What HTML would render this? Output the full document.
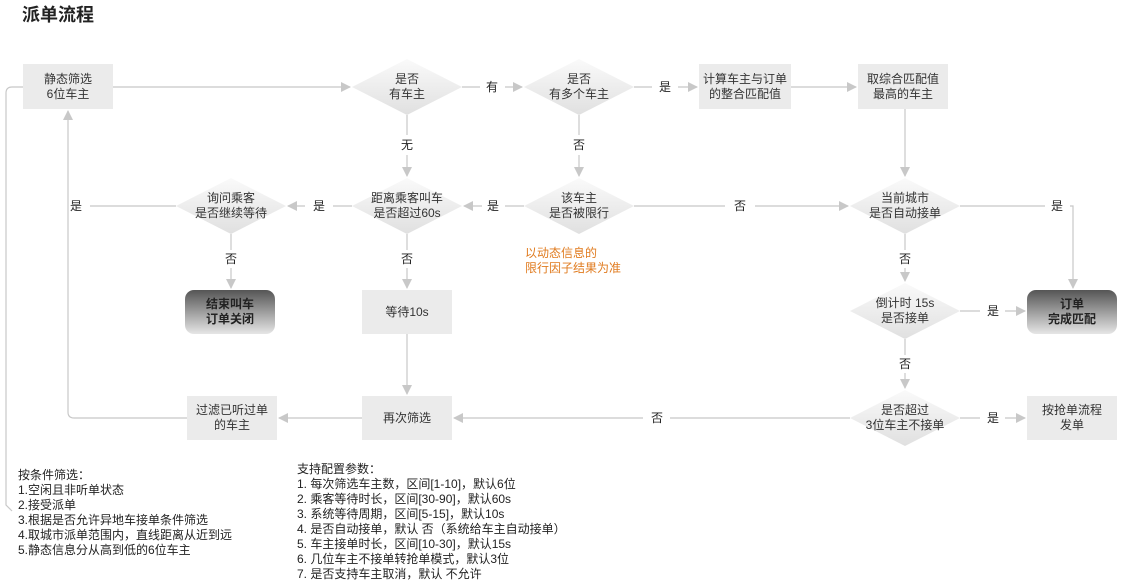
<!DOCTYPE html>
<html><head><meta charset="utf-8"><style>
body{margin:0;background:#fff;}
svg{display:block;font-family:"Liberation Sans","Noto Sans CJK SC",sans-serif;}
</style></head><body>
<svg width="1124" height="586" viewBox="0 0 1124 586">
<defs>
<linearGradient id="dg" x1="0" y1="0" x2="0" y2="1"><stop offset="0" stop-color="#fafafa"/><stop offset="1" stop-color="#e0e0e0"/></linearGradient>
<linearGradient id="tg" x1="0" y1="0" x2="0" y2="1"><stop offset="0" stop-color="#555"/><stop offset="1" stop-color="#e6e6e6"/></linearGradient>
<marker id="a" markerWidth="10" markerHeight="10" refX="9" refY="5" orient="auto" markerUnits="userSpaceOnUse"><path d="M0,0 L10,5 L0,10 Z" fill="#c8c8c8"/></marker>
</defs>
<text x="22" y="21" font-size="18" font-weight="bold" fill="#222">派单流程</text>
<g stroke="#c8c8c8" stroke-width="1.2" fill="none">
<line x1="113" y1="87" x2="350" y2="87" marker-end="url(#a)"/>
<line x1="462" y1="87" x2="480" y2="87"/><line x1="505" y1="87" x2="522" y2="87" marker-end="url(#a)"/>
<line x1="634" y1="87" x2="652" y2="87"/><line x1="678" y1="87" x2="697" y2="87" marker-end="url(#a)"/>
<line x1="791" y1="87" x2="856" y2="87" marker-end="url(#a)"/>
<line x1="905" y1="109" x2="905" y2="176" marker-end="url(#a)"/>
<line x1="407" y1="115" x2="407" y2="135"/><line x1="407" y1="155" x2="407" y2="176" marker-end="url(#a)"/>
<line x1="579" y1="115" x2="579" y2="135"/><line x1="579" y1="155" x2="579" y2="176" marker-end="url(#a)"/>
<line x1="634" y1="206" x2="725" y2="206"/><line x1="755" y1="206" x2="848" y2="206" marker-end="url(#a)"/>
<line x1="524" y1="206" x2="505" y2="206"/><line x1="482" y1="206" x2="464" y2="206" marker-end="url(#a)"/>
<line x1="352" y1="206" x2="333" y2="206"/><line x1="305" y1="206" x2="288" y2="206" marker-end="url(#a)"/>
<line x1="176" y1="206" x2="90" y2="206"/>
<line x1="231" y1="234" x2="231" y2="250"/><line x1="231" y1="268" x2="231" y2="288" marker-end="url(#a)"/>
<line x1="407" y1="234" x2="407" y2="250"/><line x1="407" y1="268" x2="407" y2="288" marker-end="url(#a)"/>
<line x1="407" y1="334" x2="407" y2="394" marker-end="url(#a)"/>
<line x1="960" y1="206" x2="1045" y2="206"/><path d="M1070,206 H1073 V288" marker-end="url(#a)"/>
<line x1="905" y1="234" x2="905" y2="250"/><line x1="905" y1="268" x2="905" y2="281" marker-end="url(#a)"/>
<line x1="960" y1="311" x2="980" y2="311"/><line x1="1005" y1="311" x2="1025" y2="311" marker-end="url(#a)"/>
<line x1="905" y1="339" x2="905" y2="355"/><line x1="905" y1="373" x2="905" y2="388" marker-end="url(#a)"/>
<line x1="960" y1="418" x2="980" y2="418"/><line x1="1005" y1="418" x2="1025" y2="418" marker-end="url(#a)"/>
<line x1="850" y1="418" x2="670" y2="418"/><line x1="643" y1="418" x2="454" y2="418" marker-end="url(#a)"/>
<line x1="362" y1="418" x2="279" y2="418" marker-end="url(#a)"/>
<path d="M187,418 H74 Q68,418 68,412 V111" marker-end="url(#a)"/>
<path d="M23,87 H12 Q6,87 6,93 V505 L12,511"/>
</g>
<g font-size="12" fill="#222" text-anchor="middle">
<text x="492" y="91">有</text><text x="665" y="91">是</text>
<text x="407" y="149">无</text><text x="579" y="149">否</text>
<text x="493" y="210">是</text><text x="319" y="210">是</text><text x="76" y="210">是</text>
<text x="740" y="210">否</text><text x="1057" y="210">是</text>
<text x="231" y="263">否</text><text x="407" y="263">否</text><text x="905" y="263">否</text>
<text x="993" y="315">是</text><text x="905" y="368">否</text>
<text x="993" y="422">是</text><text x="657" y="422">否</text>
</g>
<g fill="#ebebeb">
<rect x="23" y="64" width="90" height="45"/><rect x="699" y="64" width="92" height="45"/><rect x="858" y="64" width="90" height="45"/>
<rect x="362" y="290" width="90" height="44"/><rect x="187" y="396" width="90" height="44"/><rect x="362" y="396" width="90" height="44"/><rect x="1027" y="396" width="90" height="44"/>
</g>
<g fill="url(#dg)">
<polygon points="352,87 407,59 462,87 407,115"/><polygon points="524,87 579,59 634,87 579,115"/>
<polygon points="176,206 231,178 286,206 231,234"/><polygon points="352,206 407,178 462,206 407,234"/>
<polygon points="524,206 579,178 634,206 579,234"/><polygon points="850,206 905,178 960,206 905,234"/>
<polygon points="850,311 905,283 960,311 905,339"/><polygon points="850,418 905,390 960,418 905,446"/>
</g>
<rect x="185" y="290" width="90" height="44" rx="9" fill="url(#tg)"/>
<rect x="1027" y="290" width="90" height="44" rx="9" fill="url(#tg)"/>
<g font-size="12" fill="#333" text-anchor="middle">
<text x="68" y="83">静态筛选</text><text x="68" y="98">6位车主</text>
<text x="407" y="83">是否</text><text x="407" y="98">有车主</text>
<text x="579" y="83">是否</text><text x="579" y="98">有多个车主</text>
<text x="745" y="83">计算车主与订单</text><text x="745" y="98">的整合匹配值</text>
<text x="903" y="83">取综合匹配值</text><text x="903" y="98">最高的车主</text>
<text x="231" y="202">询问乘客</text><text x="231" y="217">是否继续等待</text>
<text x="407" y="202">距离乘客叫车</text><text x="407" y="217">是否超过60s</text>
<text x="579" y="202">该车主</text><text x="579" y="217">是否被限行</text>
<text x="905" y="202">当前城市</text><text x="905" y="217">是否自动接单</text>
<text x="407" y="316">等待10s</text>
<text x="905" y="307">倒计时 15s</text><text x="905" y="322">是否接单</text>
<text x="232" y="414">过滤已听过单</text><text x="232" y="429">的车主</text>
<text x="407" y="422">再次筛选</text>
<text x="905" y="414">是否超过</text><text x="905" y="429">3位车主不接单</text>
<text x="1072" y="414">按抢单流程</text><text x="1072" y="429">发单</text>
</g>
<g font-size="12" fill="#222" text-anchor="middle" font-weight="bold">
<text x="230" y="308">结束叫车</text><text x="230" y="323">订单关闭</text>
<text x="1072" y="308">订单</text><text x="1072" y="323">完成匹配</text>
</g>
<g font-size="12" fill="#e07b1f"><text x="525" y="257">以动态信息的</text><text x="525" y="272">限行因子结果为准</text></g>
<g font-size="12" fill="#222">
<text x="18" y="479">按条件筛选：</text><text x="18" y="494">1.空闲且非听单状态</text><text x="18" y="509">2.接受派单</text>
<text x="18" y="524">3.根据是否允许异地车接单条件筛选</text><text x="18" y="539">4.取城市派单范围内，直线距离从近到远</text><text x="18" y="554">5.静态信息分从高到低的6位车主</text>
<text x="297" y="473">支持配置参数：</text><text x="297" y="488">1. 每次筛选车主数，区间[1-10]，默认6位</text>
<text x="297" y="503">2. 乘客等待时长，区间[30-90]，默认60s</text><text x="297" y="518">3. 系统等待周期，区间[5-15]，默认10s</text>
<text x="297" y="533">4. 是否自动接单，默认 否（系统给车主自动接单）</text><text x="297" y="548">5. 车主接单时长，区间[10-30]，默认15s</text>
<text x="297" y="563">6. 几位车主不接单转抢单模式，默认3位</text><text x="297" y="578">7. 是否支持车主取消，默认 不允许</text>
</g>
</svg>
</body></html>
